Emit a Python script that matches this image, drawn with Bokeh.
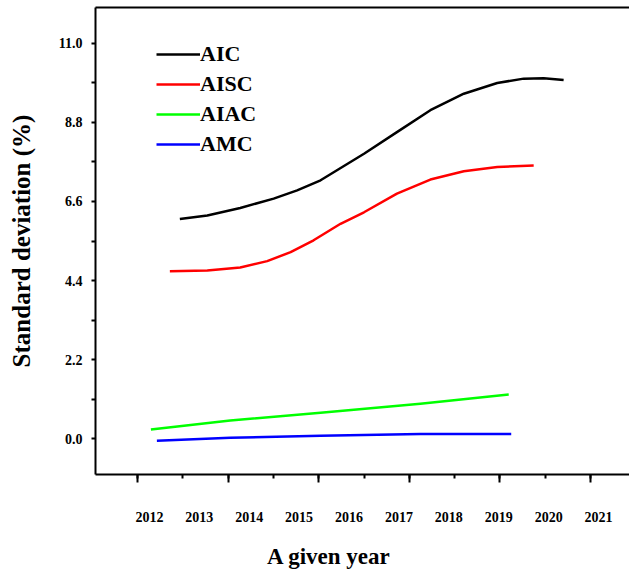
from bokeh.plotting import figure
from bokeh.models import (Range1d, LinearAxis, SingleIntervalTicker, FixedTicker,
                          PrintfTickFormatter, CustomJSTickFormatter,
                          Legend, LegendItem)
from bokeh.embed import file_html
from bokeh.resources import INLINE

# ---- data ----
tick_years = [2012, 2013, 2014, 2015, 2016, 2017, 2018, 2019, 2020, 2021]

years_aic = [2012.61, 2013.16, 2013.82, 2014.49, 2014.96, 2015.43, 2016.30,
             2016.96, 2017.63, 2018.30, 2018.97, 2019.50, 2019.90, 2020.30]
aic = [6.11, 6.21, 6.42, 6.68, 6.91, 7.19, 7.93, 8.53, 9.14, 9.60, 9.90,
       10.02, 10.03, 9.98]

years_aisc = [2012.41, 2013.16, 2013.82, 2014.36, 2014.83, 2015.29, 2015.83,
              2016.30, 2016.96, 2017.63, 2018.30, 2018.97, 2019.70]
aisc = [4.66, 4.68, 4.76, 4.94, 5.19, 5.52, 5.98, 6.30, 6.82, 7.21, 7.44,
        7.56, 7.60]

years_aiac = [2012.03, 2013.62, 2015.43, 2017.43, 2019.20]
aiac = [0.25, 0.50, 0.72, 0.97, 1.23]

years_amc = [2012.15, 2013.62, 2015.43, 2017.43, 2019.25]
amc = [-0.06, 0.02, 0.08, 0.13, 0.13]

series_names = ["AIC", "AISC", "AIAC", "AMC"]
series_colors = ["#000000", "#ff0000", "#00ff00", "#0000ff"]

x_title = "A given year"
y_title = "Standard deviation (%)"

FONT = "Liberation Serif"

p = figure(width=629, height=573,
           x_range=Range1d(2010.92, 2021.62), y_range=Range1d(-1.0, 12.0),
           output_backend="svg", toolbar_location=None,
           x_axis_location=None, y_axis_location="left",
           min_border_left=95, min_border_right=0, min_border_top=7,
           min_border_bottom=99)
p.extra_x_ranges = {"ticks": Range1d(-0.4636, 5.43)}
p.outline_line_color = None
p.grid.visible = False
p.background_fill_color = "white"
p.border_fill_color = "white"

renderers = []
for xs, ys, col in zip([years_aic, years_aisc, years_aiac, years_amc],
                       [aic, aisc, aiac, amc], series_colors):
    r = p.line(xs, ys, line_color=col, line_width=2.5, line_join="round")
    renderers.append(r)

legend = Legend(items=[LegendItem(label=n, renderers=[r])
                       for n, r in zip(series_names, renderers)],
                location=(61, 315), padding=0, spacing=0, margin=0,
                glyph_width=44, glyph_height=30, label_height=30,
                label_standoff=0, border_line_color=None,
                background_fill_alpha=0,
                label_text_font=FONT, label_text_font_style="bold",
                label_text_font_size="22px", label_text_color="black")
p.add_layout(legend)

# y axis
ya = p.yaxis[0]
ya.ticker = SingleIntervalTicker(interval=2.2, num_minor_ticks=2)
ya.formatter = PrintfTickFormatter(format="%.1f")
ya.major_tick_out = 0
ya.major_tick_in = 0
ya.minor_tick_out = 4
ya.minor_tick_in = 0
ya.minor_tick_line_width = 2
ya.axis_line_width = 2
ya.major_label_standoff = 9
ya.major_label_text_font = FONT
ya.major_label_text_font_style = "bold"
ya.major_label_text_font_size = "14px"
ya.major_label_text_color = "black"
ya.axis_label = y_title
ya.axis_label_text_font = FONT
ya.axis_label_text_font_style = "bold"
ya.axis_label_text_font_size = "25px"
ya.axis_label_text_color = "black"
ya.axis_label_standoff = 21

# bottom tick-mark axis (no labels)
tick_ax = LinearAxis(x_range_name="ticks",
                     ticker=SingleIntervalTicker(interval=1, num_minor_ticks=2),
                     formatter=CustomJSTickFormatter(code="return ''"),
                     major_label_text_font_size="1px", major_label_standoff=0,
                     major_tick_out=8, major_tick_in=0,
                     minor_tick_out=4, minor_tick_in=0,
                     axis_line_width=2, major_tick_line_width=2,
                     minor_tick_line_width=2)
p.add_layout(tick_ax, "below")

# bottom year-label axis
lab_ax = LinearAxis(ticker=FixedTicker(ticks=tick_years, minor_ticks=[]),
                    formatter=PrintfTickFormatter(format="%d"),
                    axis_line_color=None, major_tick_line_color=None,
                    minor_tick_line_color=None,
                    major_tick_out=0, major_tick_in=0,
                    minor_tick_out=0, minor_tick_in=0,
                    major_label_standoff=29,
                    major_label_text_font=FONT,
                    major_label_text_font_style="bold",
                    major_label_text_font_size="14px",
                    major_label_text_color="black")
p.add_layout(lab_ax, "below")

# x-axis title, placed left of centre as in the reference
title_ax = LinearAxis(ticker=FixedTicker(ticks=[2015.6], minor_ticks=[]),
                      formatter=CustomJSTickFormatter(
                          code="return '%s'" % x_title),
                      axis_line_color=None, major_tick_line_color=None,
                      minor_tick_line_color=None,
                      major_tick_out=0, major_tick_in=0,
                      minor_tick_out=0, minor_tick_in=0,
                      major_label_standoff=19,
                      major_label_text_font=FONT,
                      major_label_text_font_style="bold",
                      major_label_text_font_size="23px",
                      major_label_text_color="black")
p.add_layout(title_ax, "below")

# top border line
top_ax = LinearAxis(ticker=FixedTicker(ticks=[]), axis_line_width=2,
                    major_label_text_font_size="1px", major_label_standoff=0,
                    major_tick_out=0, major_tick_in=0,
                    minor_tick_out=0, minor_tick_in=0)
p.add_layout(top_ax, "above")

open("out.html", "w").write(file_html(p, INLINE))
